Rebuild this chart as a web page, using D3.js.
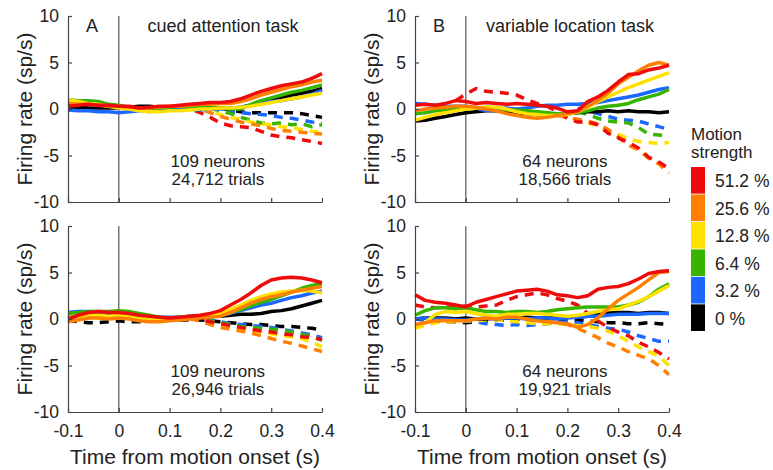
<!DOCTYPE html>
<html>
<head>
<meta charset="utf-8">
<script src="https://cdn.jsdelivr.net/npm/d3@7"></script>
<style>
  body { margin: 0; background: #fff; }
  text { font-family: "Liberation Sans", Arial, Helvetica, sans-serif; }
</style>
</head>
<body>
<div id="chart"></div>
<script>
var width = 773;
var height = 470;
var plotW = 254;
var plotH = 186;
var lineWidth = 3.5;
var axisColor = '#444';
var textColor = '#222';

// time axis (s) shared by every trace
var times = [-0.10, -0.08, -0.06, -0.04, -0.02, 0.00, 0.02, 0.04, 0.06, 0.08, 0.10, 0.12, 0.14,
             0.16, 0.18, 0.20, 0.22, 0.24, 0.26, 0.28, 0.30, 0.32, 0.34, 0.36, 0.38, 0.40];
var xTicks = [-0.1, 0, 0.1, 0.2, 0.3, 0.4];
var yTicks = [-10, -5, 0, 5, 10];

// motion strengths, strongest first
var strengths = ['51.2 %', '25.6 %', '12.8 %', '6.4 %', '3.2 %', '0 %'];
var colors = ['#ee0b0b', '#ff8000', '#ffe100', '#36b400', '#1a68ff', '#000000'];

var n = null;

// A, cued attention task, upper row
var cuedTopSolid = [
  [0.3,0.4,0.5,0.4,0.4,0.3,0.3,0.1,0.2,0.3,0.3,0.4,0.5,0.6,0.7,0.7,0.8,1.1,1.5,1.9,2.2,2.5,2.7,2.9,3.3,3.8],
  [0.6,0.5,0.5,0.4,0.3,0.3,0.2,0.1,0.1,0.2,0.3,0.3,0.4,0.5,0.5,0.6,0.6,0.8,1.1,1.5,1.8,2.1,2.4,2.6,2.9,3.1],
  [1.0,0.8,0.6,0.5,0.3,0.1,0.0,-0.2,-0.3,-0.3,-0.2,-0.2,-0.1,0.0,0.0,0.1,0.1,0.2,0.3,0.5,0.7,0.9,1.1,1.3,1.5,1.7],
  [1.0,0.9,0.9,0.8,0.5,0.4,0.2,0.0,-0.3,0.1,0.2,0.3,0.2,0.2,0.2,0.1,0.0,0.0,0.5,0.9,1.2,1.5,1.8,2.0,2.3,2.6],
  [-0.1,-0.2,-0.2,-0.3,-0.3,-0.4,-0.3,-0.2,-0.2,-0.1,0.0,0.0,0.0,-0.1,0.0,0.0,0.1,0.2,0.4,0.6,0.8,0.9,1.1,1.3,1.6,2.0],
  [0.2,0.2,0.1,0.1,0.1,0.1,0.2,0.3,0.3,0.2,0.2,0.3,0.3,0.2,0.1,0.1,0.0,0.2,0.4,0.8,1.0,1.2,1.5,1.7,1.9,2.2]
];
var cuedTopDashed = [
  [n,n,n,n,n,n,n,n,n,n,n,0.3,0.0,-0.4,-0.9,-1.5,-1.8,-1.9,-2.0,-2.4,-2.8,-3.0,-3.1,-3.3,-3.5,-3.7],
  [n,n,n,n,n,n,n,n,n,n,n,n,0.3,0.0,-0.4,-0.8,-1.1,-1.4,-1.6,-1.8,-2.1,-2.3,-2.4,-2.5,-2.6,-2.7],
  [n,n,n,n,n,n,n,n,n,n,n,n,n,0.0,-0.2,-0.6,-0.9,-1.1,-1.4,-1.6,-1.7,-1.9,-2.0,-2.2,-2.4,-2.5],
  [n,n,n,n,n,n,n,n,n,n,n,n,n,n,0.1,-0.2,-0.5,-0.9,-1.2,-1.5,-1.6,-1.5,-1.7,-1.6,-1.9,-1.7],
  [n,n,n,n,n,n,n,n,n,n,n,n,n,n,0.0,-0.1,-0.3,-0.4,-0.5,-0.6,-0.7,-0.9,-1.0,-1.2,-1.4,-1.5],
  [n,n,n,n,n,n,n,n,n,n,n,n,n,n,n,0.1,-0.1,-0.3,-0.4,-0.4,-0.4,-0.4,-0.4,-0.5,-0.7,-0.9]
];

// A, cued attention task, lower row
var cuedBottomSolid = [
  [0.0,0.4,0.7,0.8,0.7,0.7,0.6,0.4,0.3,0.2,0.1,0.2,0.3,0.4,0.6,0.9,1.5,2.1,2.8,3.6,4.2,4.4,4.5,4.4,4.2,3.9],
  [-0.3,-0.1,0.1,0.1,0.0,0.1,0.0,-0.2,-0.3,-0.3,-0.2,-0.1,0.0,0.1,0.2,0.3,0.7,1.2,1.7,2.1,2.4,2.6,2.9,3.1,3.3,3.5],
  [0.2,0.3,0.4,0.4,0.3,0.4,0.3,0.1,0.0,0.0,0.0,0.1,0.2,0.3,0.4,0.6,1.0,1.5,2.0,2.4,2.7,2.9,3.0,3.1,3.0,2.8],
  [0.6,0.7,0.8,0.8,0.8,0.9,0.8,0.6,0.4,0.2,0.1,0.2,0.3,0.3,0.4,0.4,0.7,1.0,1.4,1.8,2.1,2.5,2.9,3.3,3.6,3.8],
  [0.7,0.8,0.8,0.7,0.6,0.6,0.5,0.3,0.2,0.2,0.2,0.2,0.3,0.3,0.4,0.4,0.6,0.9,1.2,1.5,1.7,2.0,2.3,2.5,2.8,3.0],
  [0.2,0.3,0.5,0.6,0.7,0.8,0.6,0.4,0.2,0.1,0.0,0.1,0.2,0.3,0.3,0.3,0.4,0.5,0.5,0.6,0.8,0.9,1.1,1.4,1.7,2.0]
];
var cuedBottomDashed = [
  [n,n,n,n,n,n,n,n,n,n,n,n,0.2,0.0,-0.3,-0.5,-0.7,-0.9,-1.1,-1.3,-1.4,-1.6,-1.7,-1.9,-2.0,-2.2],
  [n,n,n,n,n,n,n,n,n,n,n,n,0.0,-0.2,-0.6,-0.9,-1.1,-1.3,-1.5,-1.8,-2.1,-2.4,-2.6,-2.9,-3.2,-3.5],
  [n,n,n,n,n,n,n,n,n,n,n,n,0.1,-0.1,-0.4,-0.6,-0.8,-1.0,-1.2,-1.4,-1.6,-1.8,-1.9,-2.1,-2.5,-3.0],
  [n,n,n,n,n,n,n,n,n,n,n,n,0.1,0.0,-0.2,-0.4,-0.6,-0.8,-0.9,-1.0,-1.1,-1.2,-1.4,-1.6,-1.9,-2.3],
  [n,n,n,n,n,n,n,n,n,n,n,n,0.1,0.0,-0.1,-0.3,-0.5,-0.6,-0.7,-0.8,-0.9,-1.1,-1.3,-1.5,-1.7,-2.0],
  [-0.1,-0.3,-0.4,-0.4,-0.3,-0.2,-0.3,-0.3,-0.2,-0.2,-0.1,-0.1,-0.1,-0.1,-0.2,-0.3,-0.4,-0.5,-0.6,-0.6,-0.7,-0.8,-0.8,-0.9,-1.0,-1.2]
];

// B, variable location task, upper row
var varTopSolid = [
  [0.4,0.5,0.4,0.6,0.9,0.8,0.6,0.7,0.6,0.5,0.6,0.5,0.4,0.3,0.1,-0.3,-0.2,0.8,1.3,2.0,2.9,3.7,3.8,4.2,4.4,4.7],
  [-0.2,0.0,0.1,0.2,0.3,0.3,0.2,0.0,-0.2,-0.5,-0.7,-0.9,-1.0,-0.9,-0.7,-0.5,-0.3,0.3,0.9,1.7,2.7,3.4,4.1,4.7,5.0,4.7],
  [-1.2,-0.9,-0.6,-0.4,-0.2,0.0,0.1,0.2,0.2,0.0,-0.3,-0.5,-0.6,-0.7,-0.7,-0.6,-0.3,0.2,0.8,1.3,1.8,2.3,2.7,3.1,3.5,3.9],
  [-0.5,-0.4,-0.2,-0.1,0.0,0.0,0.1,0.2,0.1,-0.1,-0.1,-0.2,-0.3,-0.4,-0.5,-0.5,-0.4,-0.2,0.1,0.3,0.4,0.6,1.0,1.3,1.6,2.1],
  [0.6,0.5,0.4,0.3,0.3,0.3,0.1,-0.2,0.0,0.1,0.0,0.1,0.3,0.4,0.4,0.5,0.5,0.6,0.7,0.9,1.1,1.3,1.5,1.8,2.1,2.3],
  [-1.3,-1.2,-1.0,-0.8,-0.6,-0.4,-0.3,-0.2,-0.2,-0.3,-0.4,-0.5,-0.6,-0.6,-0.5,-0.5,-0.4,-0.3,-0.3,-0.2,-0.3,-0.2,-0.3,-0.3,-0.4,-0.3]
];
var varTopDashed = [
  [n,n,n,n,0.9,1.6,2.2,1.9,1.8,1.7,1.5,1.0,0.6,0.3,-0.3,-1.0,-1.4,-1.4,-1.7,-2.6,-3.1,-3.6,-4.2,-5.2,-5.7,-6.4],
  [n,n,n,n,n,n,n,n,n,n,n,n,n,n,-0.7,-0.9,-1.1,-1.3,-1.6,-2.2,-3.0,-3.9,-4.4,-5.3,-5.9,-6.9],
  [n,n,n,n,n,n,n,n,n,n,n,n,n,n,-0.6,-0.8,-1.2,-1.5,-1.8,-2.3,-2.7,-3.2,-3.5,-3.6,-3.7,-3.6],
  [n,n,n,n,n,n,n,n,n,n,n,n,n,n,n,n,-0.3,-0.6,-1.0,-1.3,-1.4,-1.5,-2.0,-2.7,-2.8,-2.9],
  [n,n,n,n,n,n,n,n,n,n,n,n,n,n,n,n,0.1,-0.2,-0.5,-0.8,-1.1,-1.2,-1.3,-1.6,-1.9,-2.2],
  [n,n,n,n,n,n,n,n,n,n,n,n,n,n,n,n,n,n,n,n,n,n,n,n,n,n]
];

// B, variable location task, lower row
var varBottomSolid = [
  [2.6,2.0,1.8,1.7,1.5,1.3,1.8,2.1,2.4,2.7,3.0,3.1,3.2,3.0,2.6,2.5,2.3,2.5,3.2,3.4,3.5,3.8,4.3,4.9,5.1,5.2],
  [-0.6,-0.4,-0.2,-0.2,-0.2,-0.2,0.0,0.1,0.0,0.2,0.2,0.0,-0.2,-0.3,-0.4,-0.5,-0.9,-0.6,0.1,1.1,2.0,2.7,3.4,4.2,5.0,5.1],
  [-0.9,-0.4,0.5,0.8,0.7,0.8,0.6,0.4,0.3,0.5,0.5,0.6,0.6,0.5,0.4,0.3,0.4,0.6,0.8,1.0,1.1,1.5,1.9,2.4,3.0,3.6],
  [0.4,0.9,1.2,1.2,1.1,1.2,1.0,0.8,0.8,0.7,0.8,0.8,0.7,0.8,1.0,1.1,1.2,1.3,1.3,1.3,1.3,1.5,1.8,2.4,3.2,3.8],
  [0.0,0.1,0.0,0.0,-0.1,-0.1,0.0,0.1,0.0,0.1,0.1,0.0,0.1,0.1,0.0,0.1,0.2,0.3,0.3,0.4,0.5,0.5,0.5,0.6,0.6,0.6],
  [0.0,0.1,0.1,0.1,0.0,0.1,0.0,0.0,0.1,0.1,0.1,0.2,0.1,0.1,0.2,0.2,0.2,0.3,0.5,0.7,0.7,0.7,0.6,0.7,0.7,0.6]
];
var varBottomDashed = [
  [1.5,1.3,1.2,1.3,1.3,1.4,1.3,1.4,1.5,2.0,2.4,2.6,2.8,2.6,2.2,1.9,1.5,0.6,-0.2,-0.9,-1.4,-1.8,-2.5,-3.0,-3.6,-4.3],
  [n,n,n,n,n,n,n,n,n,n,n,n,n,-0.2,-0.4,-0.6,-1.0,-1.5,-2.0,-2.6,-3.0,-3.5,-3.9,-4.3,-5.0,-6.0],
  [-1.0,-0.7,-0.4,-0.3,-0.3,-0.2,-0.2,-0.1,-0.1,-0.2,-0.3,-0.4,-0.5,-0.5,-0.5,-0.6,-0.7,-0.8,-1.0,-1.3,-1.8,-2.4,-3.0,-3.5,-4.0,-5.0],
  [n,n,n,n,n,n,n,n,n,n,n,n,n,n,n,n,n,n,n,n,n,n,n,n,n,n],
  [0.0,-0.1,-0.1,-0.2,-0.2,-0.2,-0.3,-0.5,-0.6,-0.7,-0.6,-0.7,-0.6,-0.5,-0.4,-0.3,-0.4,-0.6,-0.8,-1.0,-1.1,-1.4,-1.8,-2.1,-2.4,-2.4],
  [0.0,-0.1,-0.2,-0.3,-0.3,-0.4,-0.3,-0.2,-0.1,-0.1,0.0,-0.1,-0.1,-0.1,-0.1,-0.1,-0.1,-0.2,-0.3,-0.4,-0.4,-0.5,-0.5,-0.4,-0.5,-0.6]
];

var panels = [
  { left: 68,  top: 16,  solid: cuedTopSolid,    dashed: cuedTopDashed,    letter: 'A', title: 'cued attention task',     neurons: '109 neurons', trials: '24,712 trials', xLabels: false },
  { left: 68,  top: 226, solid: cuedBottomSolid, dashed: cuedBottomDashed, letter: '',  title: '',                        neurons: '109 neurons', trials: '26,946 trials', xLabels: true },
  { left: 415, top: 16,  solid: varTopSolid,     dashed: varTopDashed,     letter: 'B', title: 'variable location task',  neurons: '64 neurons',  trials: '18,566 trials', xLabels: false },
  { left: 415, top: 226, solid: varBottomSolid,  dashed: varBottomDashed,  letter: '',  title: '',                        neurons: '64 neurons',  trials: '19,921 trials', xLabels: true }
];

var svg = d3.select('#chart').append('svg')
    .attr('width', width)
    .attr('height', height);

var fmt = function(d) { return String(d); };

panels.forEach(function(p) {
  var x = d3.scaleLinear().domain([-0.1, 0.4]).range([p.left, p.left + plotW]);
  var y = d3.scaleLinear().domain([-10, 10]).range([p.top + plotH, p.top]);
  var g = svg.append('g');

  var line = d3.line()
      .defined(function(d) { return d != null; })
      .x(function(d, i) { return x(times[i]); })
      .y(function(d) { return y(d); });

  // onset marker
  g.append('line')
      .attr('x1', x(0)).attr('x2', x(0))
      .attr('y1', y(10)).attr('y2', y(-10))
      .style('stroke', '#555')
      .style('stroke-width', 1.2);

  // null-direction traces underneath, weakest first
  for (var i = strengths.length - 1; i >= 0; i--) {
    g.append('path')
        .attr('d', line(p.dashed[i]))
        .style('fill', 'none')
        .style('stroke', colors[i])
        .style('stroke-width', lineWidth)
        .style('stroke-dasharray', '9,7');
  }
  for (var j = strengths.length - 1; j >= 0; j--) {
    g.append('path')
        .attr('d', line(p.solid[j]))
        .style('fill', 'none')
        .style('stroke', colors[j])
        .style('stroke-width', lineWidth)
        .style('stroke-linejoin', 'round');
  }

  var yAxis = d3.axisLeft(y)
      .tickValues(yTicks)
      .tickSizeInner(-4)
      .tickSizeOuter(0)
      .tickPadding(9)
      .tickFormat(fmt);
  var xAxis = d3.axisBottom(x)
      .tickValues(xTicks)
      .tickSizeInner(-4)
      .tickSizeOuter(0)
      .tickPadding(13)
      .tickFormat(p.xLabels ? fmt : function() { return ''; });

  var ya = g.append('g')
      .attr('transform', 'translate(' + p.left + ',0)')
      .call(yAxis);
  var xa = g.append('g')
      .attr('transform', 'translate(0,' + (p.top + plotH) + ')')
      .call(xAxis);
  [ya, xa].forEach(function(a) {
    a.selectAll('path, line').style('stroke', axisColor).style('stroke-width', 1.2);
    a.selectAll('text').style('font-size', '17.5px').style('fill', textColor)
        .style('font-family', '"Liberation Sans", Arial, sans-serif');
  });

  g.append('text')
      .attr('transform', 'rotate(-90)')
      .attr('x', -(p.top + plotH / 2))
      .attr('y', p.left - 36)
      .style('text-anchor', 'middle')
      .style('font-size', '21px')
      .style('fill', textColor)
      .text('Firing rate (sp/s)');

  if (p.letter) {
    g.append('text')
        .attr('x', p.left + 18)
        .attr('y', p.top + 16)
        .style('font-size', '18px')
        .style('fill', textColor)
        .text(p.letter);
    g.append('text')
        .attr('x', x(0.205))
        .attr('y', p.top + 16)
        .style('text-anchor', 'middle')
        .style('font-size', '18px')
        .style('fill', textColor)
        .text(p.title);
  }

  g.append('text')
      .attr('x', x(0.195))
      .attr('y', p.top + 151)
      .style('text-anchor', 'middle')
      .style('font-size', '17px')
      .style('fill', textColor)
      .text(p.neurons);
  g.append('text')
      .attr('x', x(0.195))
      .attr('y', p.top + 169)
      .style('text-anchor', 'middle')
      .style('font-size', '17px')
      .style('fill', textColor)
      .text(p.trials);

  if (p.xLabels) {
    g.append('text')
        .attr('x', x(0.15))
        .attr('y', 464)
        .style('text-anchor', 'middle')
        .style('font-size', '21px')
        .style('fill', textColor)
        .text('Time from motion onset (s)');
  }
});

// legend
var legend = svg.append('g').attr('transform', 'translate(691,0)');
legend.append('text')
    .attr('x', 0).attr('y', 140)
    .style('font-size', '17px').style('fill', textColor)
    .text('Motion');
legend.append('text')
    .attr('x', 0).attr('y', 158)
    .style('font-size', '17px').style('fill', textColor)
    .text('strength');

var boxY = d3.scaleBand().domain(strengths).range([167, 331]).paddingInner(0.03);
legend.selectAll('rect')
    .data(strengths)
  .enter()
    .append('rect')
    .attr('x', 0)
    .attr('y', function(d) { return boxY(d); })
    .attr('width', 14)
    .attr('height', boxY.bandwidth())
    .style('fill', function(d, i) { return colors[i]; });
legend.selectAll('text.lab')
    .data(strengths)
  .enter()
    .append('text')
    .attr('class', 'lab')
    .attr('x', 24)
    .attr('y', function(d) { return boxY(d) + boxY.bandwidth() / 2 + 7; })
    .style('font-size', '17.5px')
    .style('fill', textColor)
    .text(function(d) { return d; });
</script>
</body>
</html>
